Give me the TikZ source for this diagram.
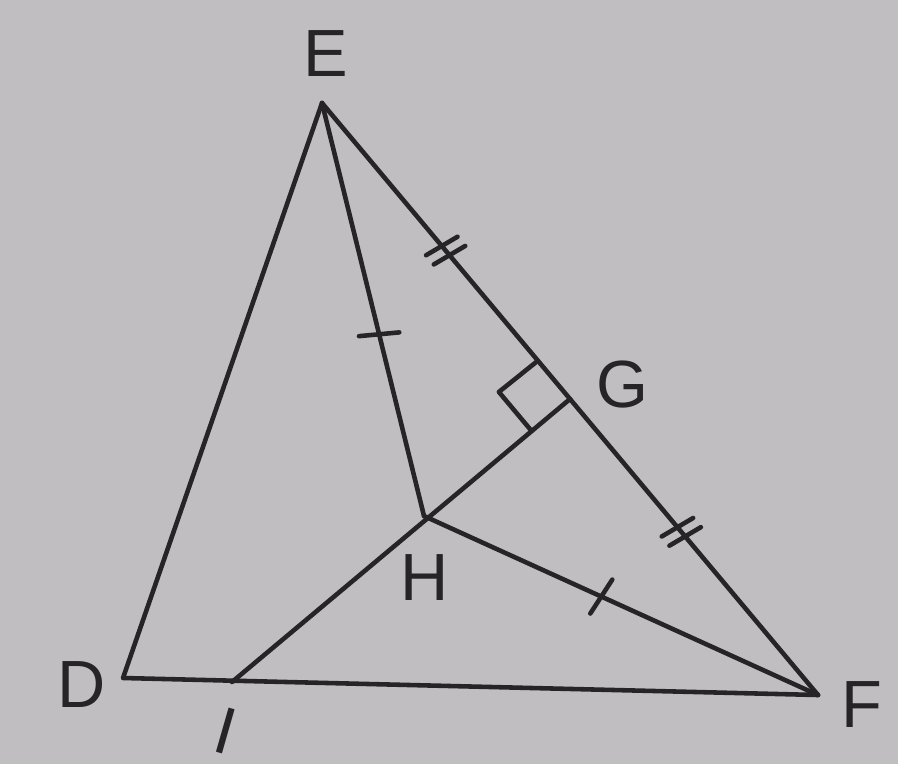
\documentclass[tikz,border=0pt]{standalone}
\usepackage{fontspec}
\setsansfont{Liberation Sans}
\usepackage{tikz}
\usetikzlibrary{calc, positioning, decorations.markings}
\definecolor{paper}{RGB}{192,190,192}
\definecolor{pencil}{RGB}{38,36,38}

\begin{document}
\begin{tikzpicture}[
  every node/.style={font=\sffamily\fontsize{19}{21}\selectfont, text=pencil, inner sep=0pt},
  side/.style={line width=1.3pt, pencil, line cap=round, line join=round},
  onetick/.style={postaction={decorate, decoration={markings,
    mark=at position #1 with {\draw[side] (-0.03,-0.2) -- (0.03,0.2);}}}},
  twotick/.style={postaction={decorate, decoration={markings,
    mark=at position #1 with {\draw[side] (-0.09,-0.18) -- (-0.03,0.18);
                              \draw[side] (0.03,-0.18) -- (0.09,0.18);}}}}
]
  \fill[paper] (0,0) rectangle (8.98,7.64);
  \useasboundingbox (0,0) rectangle (8.98,7.64);

  \coordinate (E) at (3.22,6.61);
  \coordinate (D) at (1.23,0.86);
  \coordinate (F) at (8.18,0.69);
  \coordinate (G) at (5.70,3.65);
  \coordinate (H) at (4.24,2.48);
  \coordinate (I) at (2.32,0.82);

  \node (lblE) at (3.26,7.10) {E};
  \node (lblG) at (6.22,3.79) {G};
  \node (lblH) at (4.25,1.86) {H};
  \node (lblD) at (0.82,0.79) {D};
  \node (lblF) at (8.62,0.59) {F};
  \node[rotate=-16] (lblI) at (2.26,0.33) {I};

  % triangle
  \draw[side] (E) -- (D) -- (F);
  \draw[side, twotick=0.5] (E) -- (G);
  \draw[side, twotick=0.45] (G) -- (F);
  % inner segments
  \draw[side, onetick=0.56] (E) -- (H);
  \draw[side, onetick=0.45] (H) -- (F);
  \draw[side] (G) -- (I);

  % right angle at G
  \coordinate (ge) at ($(G)!0.5cm!(E)$);
  \coordinate (gh) at ($(G)!0.5cm!(H)$);
  \draw[side] (ge) -- ($(ge)+(gh)-(G)$) -- (gh);
\end{tikzpicture}
\end{document}
